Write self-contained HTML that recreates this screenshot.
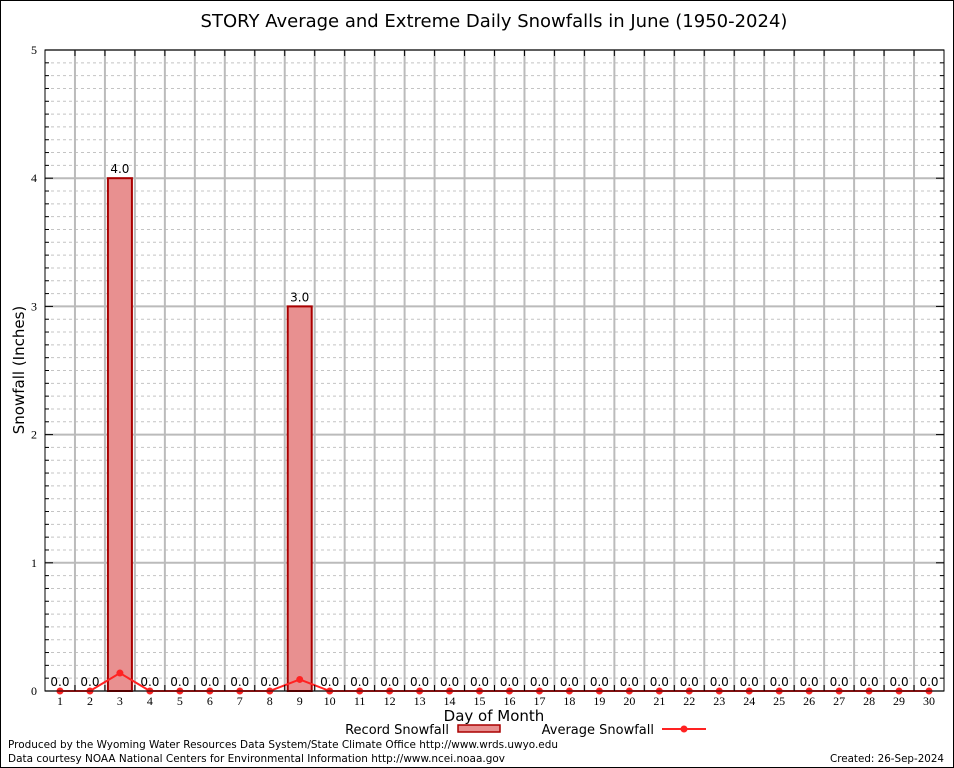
<!DOCTYPE html>
<html><head><meta charset="utf-8"><style>
body{margin:0;background:#fff}
svg{display:block;font-family:"DejaVu Sans","Liberation Sans",sans-serif}
</style></head><body>
<svg id="c" width="954" height="768" xmlns="http://www.w3.org/2000/svg">
<rect x="0.5" y="0.5" width="953" height="767" fill="#fff" stroke="#000"/>
<text x="494" y="27" font-size="18" text-anchor="middle">STORY Average and Extreme Daily Snowfalls in June (1950-2024)</text>
<g id="grid"></g><g id="bars"></g><g id="line"></g><g id="axes"></g>
<text transform="translate(24,370) rotate(-90)" font-size="15" text-anchor="middle">Snowfall (Inches)</text>
<text x="494" y="721" font-size="15" text-anchor="middle">Day of Month</text>
<g>
<text x="449" y="734" font-size="13" text-anchor="end">Record Snowfall</text>
<rect x="458" y="725" width="42" height="7" fill="#e89090" stroke="#a00" stroke-width="1.5"/>
<text x="654" y="734" font-size="13" text-anchor="end">Average Snowfall</text>
<line x1="662" y1="729" x2="706" y2="729" stroke="#f22" stroke-width="2"/>
<circle cx="684" cy="729" r="3.5" fill="#f22"/>
</g>
<text x="8" y="748" font-size="11" textLength="550" lengthAdjust="spacingAndGlyphs">Produced by the Wyoming Water Resources Data System/State Climate Office http://www.wrds.uwyo.edu</text>
<text x="8" y="762" font-size="11" textLength="497" lengthAdjust="spacingAndGlyphs">Data courtesy NOAA National Centers for Environmental Information http://www.ncei.noaa.gov</text>
<text x="830" y="762" font-size="11" textLength="114" lengthAdjust="spacingAndGlyphs">Created: 26-Sep-2024</text>
</svg>
<script>
const days=[1,2,3,4,5,6,7,8,9,10,11,12,13,14,15,16,17,18,19,20,21,22,23,24,25,26,27,28,29,30];
const recordSnow=[0,0,4,0,0,0,0,0,3,0,0,0,0,0,0,0,0,0,0,0,0,0,0,0,0,0,0,0,0,0];
const avgSnow=[0,0,0.14,0,0,0,0,0,0.09,0,0,0,0,0,0,0,0,0,0,0,0,0,0,0,0,0,0,0,0,0];
const yTicks=[0,1,2,3,4,5];
const L=45,R=944,T=50,B=691,ymax=5;
const step=(R-L)/30;
const xs=d=>L+(d-0.5)*step;
const ys=v=>B-v/ymax*(B-T);
const NS='http://www.w3.org/2000/svg';
function mk(p,t,a){const e=document.createElementNS(NS,t);for(const k in a)e.setAttribute(k,a[k]);p.appendChild(e);return e;}
const g=document.getElementById('grid'),bg=document.getElementById('bars'),lg=document.getElementById('line'),ax=document.getElementById('axes');
for(let i=1;i<ymax*10;i++){if(i%10===0)continue;const y=ys(i/10);
const l=mk(g,'line',{x1:L,x2:R,y1:y,y2:y,stroke:'#c4c4c4','stroke-dasharray':'3,3'});


mk(ax,'line',{x1:L,x2:L+4,y1:y,y2:y,stroke:'#000'});mk(ax,'line',{x1:R-4,x2:R,y1:y,y2:y,stroke:'#000'});}
yTicks.forEach(v=>{const y=ys(v);
const l=mk(g,'line',{x1:L,x2:R,y1:y,y2:y,stroke:'#bbb','stroke-width':2});


mk(ax,'line',{x1:L,x2:L+8,y1:y,y2:y,stroke:'#000'});mk(ax,'line',{x1:R-8,x2:R,y1:y,y2:y,stroke:'#000'});
const t=mk(ax,'text',{x:L-8,y:y+4,'font-size':12,'text-anchor':'end','font-family':'Liberation Serif,serif'});t.textContent=v;

});
for(let i=1;i<30;i++){const x=L+i*step;
const l=mk(g,'line',{x1:x,x2:x,y1:T,y2:B,stroke:'#bbb','stroke-width':2});


mk(ax,'line',{x1:x,x2:x,y1:T,y2:T+6,stroke:'#000'});mk(ax,'line',{x1:x,x2:x,y1:B-6,y2:B,stroke:'#000'});}
days.forEach((d,i)=>{const x=xs(d);
const t=mk(ax,'text',{x:x,y:B+14,'font-size':12,'text-anchor':'middle','font-family':'Liberation Serif,serif'});t.textContent=d;


const v=recordSnow[i];
if(v>0){const r=mk(bg,'rect',{x:x-12,y:ys(v),width:24,height:B-ys(v),fill:'#e89090',stroke:'#a00','stroke-width':2});

}
const lb=mk(bg,'text',{x:x,y:ys(v)-5,'font-size':12,'text-anchor':'middle'});lb.textContent=v.toFixed(1);

});
const pl=mk(lg,'polyline',{points:days.map((d,i)=>xs(d)+','+ys(avgSnow[i])).join(' '),fill:'none',stroke:'#f22','stroke-width':2});


days.forEach((d,i)=>{const c=mk(lg,'circle',{cx:xs(d),cy:ys(avgSnow[i]),r:3.5,fill:'#f22'});

});
const f=mk(ax,'rect',{x:L,y:T,width:R-L,height:B-T,fill:'none',stroke:'#000'});


</script>
</body></html>
